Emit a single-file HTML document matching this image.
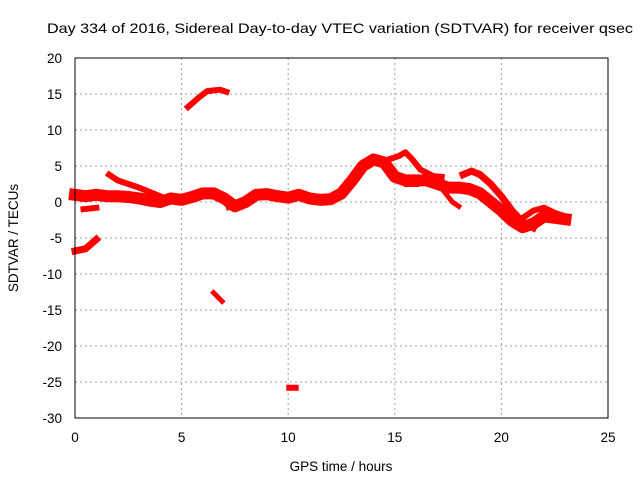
<!DOCTYPE html>
<html><head><meta charset="utf-8"><style>
body{margin:0;background:#fff;}
svg{display:block;font-family:"Liberation Sans",sans-serif;}
</style></head><body>
<svg id="chart" width="640" height="480">
<text x="47" y="33" font-size="14" textLength="586" lengthAdjust="spacingAndGlyphs">Day 334 of 2016, Sidereal Day-to-day VTEC variation (SDTVAR) for receiver qsec</text>
<text x="341" y="471" font-size="13.5" text-anchor="middle">GPS time / hours</text>
<text transform="translate(18,238) rotate(-90)" font-size="13.5" text-anchor="middle">SDTVAR / TECUs</text>
<g id="grid"></g><g id="ticks"></g><g id="series"></g>
<rect x="75" y="58" width="533" height="360" fill="none" stroke="#000" stroke-width="1"/>
</svg>
<script>
const xTicks=[0,5,10,15,20,25];
const yTicks=[20,15,10,5,0,-5,-10,-15,-20,-25,-30];
const trackMain=[[0,1],[0.5,0.8],[1,1],[1.5,0.8],[2,0.8],[2.5,0.7],[3,0.5],[3.5,0.2],[4,0],[4.5,0.5],[5,0.3],[5.5,0.7],[6,1.2],[6.5,1.2],[7,0.5],[7.5,-0.6],[8,0],[8.5,1],[9,1.1],[9.5,0.8],[10,0.6],[10.5,1],[11,0.5],[11.5,0.3],[12,0.4],[12.5,1.2],[13,3],[13.5,5],[14,5.9],[14.5,5.5],[15,3.5],[15.5,3],[16,3],[16.5,3],[17,2.5],[17.5,2],[18,2],[18.5,1.8],[19,1.2],[19.5,0],[20,-1.2],[20.5,-2.6],[21,-3.5],[21.5,-3],[22,-2],[22.5,-2.2],[23,-2.4]];
const trackB=[[1.6,3.8],[2,3],[2.5,2.5],[3,2],[3.5,1.4],[4,0.8]];
const trackC=[[0.4,-1],[1,-0.8]];
const trackD=[[0,-6.8],[0.5,-6.5],[1,-5.2]];
const trackE=[[5.3,13.2],[5.8,14.5],[6.2,15.4],[6.8,15.6],[7.1,15.3]];
const trackF=[[6.5,-12.6],[6.9,-13.8]];
const trackG=[[10.05,-25.8],[10.35,-25.8]];
const trackH=[[14.8,6],[15.2,6.4],[15.5,6.9],[15.8,6],[16.2,4.5],[16.8,3.6],[17.2,3.5]];
const trackI=[[14.6,5.5],[15,4],[15.5,2.5],[16,2.5]];
const trackJ=[[17.3,1.5],[17.7,0],[18,-0.6]];
const trackK=[[18.2,3.8],[18.6,4.3],[19,3.8],[19.5,2.5],[20,0.8],[20.5,-1.2],[21,-2.8],[21.5,-3.6]];
const trackL=[[21,-2.2],[21.5,-1.2],[22,-0.8],[22.5,-1.5],[23,-2]];
const trackM=[[7.2,-0.8],[7.8,-0.4]];
const tracks=[trackMain,trackB,trackC,trackD,trackE,trackF,trackG,trackH,trackI,trackJ,trackK,trackL,trackM];
const widths=[12,6,6,7,6,5,6,6,6,5,7,6,5];
const NS="http://www.w3.org/2000/svg";
const X=h=>75+h*533/25, Y=v=>202-v*7.2;
const grid=document.getElementById('grid'),ticks=document.getElementById('ticks'),series=document.getElementById('series');
function mk(t,a,p){const e=document.createElementNS(NS,t);for(const k in a)e.setAttribute(k,a[k]);p.appendChild(e);return e;}
xTicks.forEach(t=>{const x=X(t);
 if(t>0&&t<25){const g=mk('line',{x1:x,x2:x,y1:58,y2:418,stroke:'#a0a0a0','stroke-dasharray':'2,3'},grid);
 
 }
 const l=mk('text',{x:x,y:442,'font-size':'13.5','text-anchor':'middle'},ticks);l.textContent=t;
 
 });
yTicks.forEach(t=>{const y=Y(t);
 if(t<20&&t>-30){const g=mk('line',{x1:75,x2:608,y1:y,y2:y,stroke:'#a0a0a0','stroke-dasharray':'2,3'},grid);
 
 }
 const l=mk('text',{x:62,y:y+5,'font-size':'13.5','text-anchor':'end'},ticks);l.textContent=t;
 
 });
tracks.forEach((tr,i)=>{const p=mk('polyline',{points:tr.map(d=>X(d[0])+','+Y(d[1])).join(' '),fill:'none',stroke:'#ff0000','stroke-width':widths[i],'stroke-linejoin':'round','stroke-linecap':'square'},series);
 
 });
</script>
</body></html>
